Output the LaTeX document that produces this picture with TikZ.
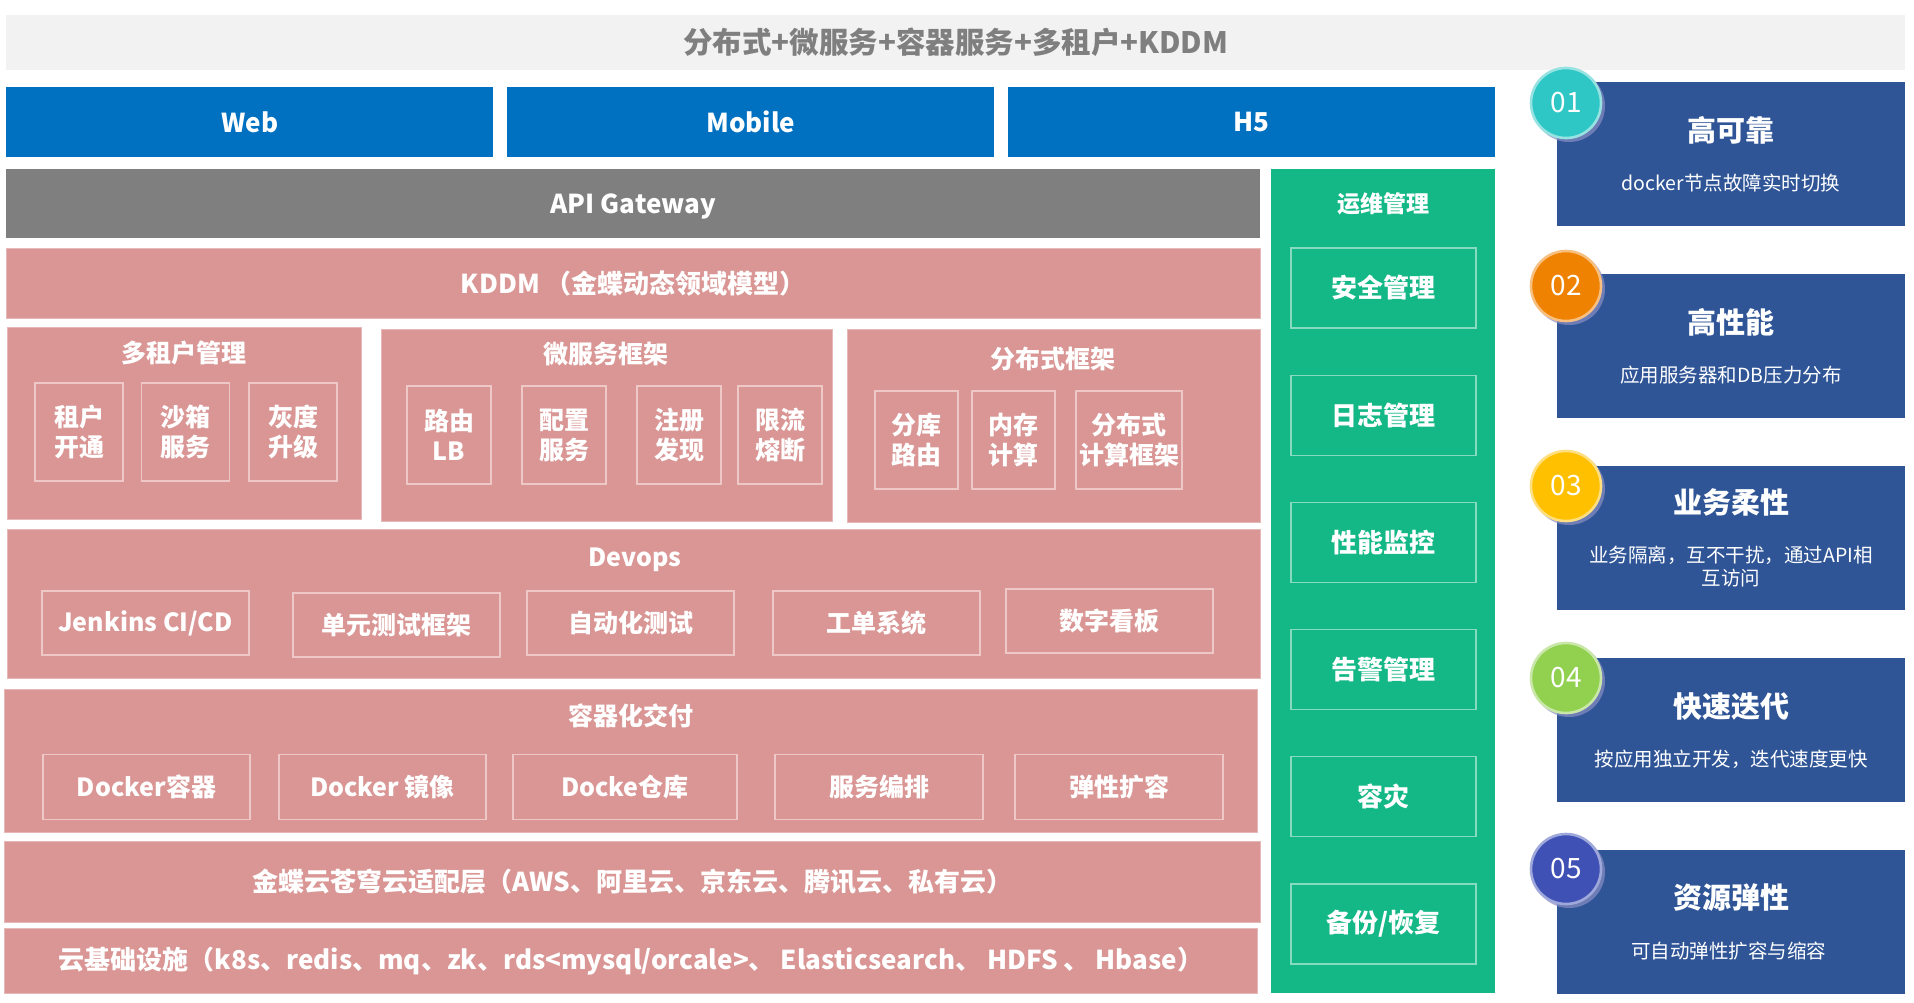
\documentclass[tikz,border=0pt]{standalone}
\usepackage{fontspec}
\setmainfont{Noto Sans CJK SC}
\usepackage{xcolor}
\usepackage{tikz}

\tikzset{
	bar/.style={fill=#1,draw=none,text=white,inner sep=0pt,anchor=north west,
		font=\bfseries\fontsize{26}{30}\selectfont},
	panel/.style={fill=kdPink,draw=kdPinkEdge,line width=0.8pt,text=white,inner sep=0pt,
		anchor=north west,font=\bfseries\fontsize{26}{30}\selectfont},
	paneltitle/.style={text=white,inner sep=0pt,font=\bfseries\fontsize{25}{30}\selectfont},
	cell/.style={draw=kdCellEdge,line width=1.3pt,text=white,inner sep=0pt,align=center,
		font=\bfseries\fontsize{25}{30}\selectfont},
	opsbox/.style={draw=kdOpsEdge,line width=1.3pt,text=white,inner sep=0pt,
		minimum width=185pt,minimum height=80pt,font=\bfseries\fontsize{26}{30}\selectfont},
	card/.style={fill=kdCard,draw=none,anchor=north west,minimum width=348pt,minimum height=144pt},
	cardtitle/.style={text=white,inner sep=0pt,font=\bfseries\fontsize{29}{34}\selectfont},
	cardnote/.style={text=white,inner sep=0pt,align=center,font=\fontsize{19.5}{23}\selectfont},
	numdot/.style={circle,inner sep=0pt,minimum size=70pt,line width=2.6pt,text=white,
		font=\fontsize{28}{30}\selectfont},
	numshade/.style={circle,inner sep=0pt,minimum size=72pt,fill=kdShade,draw=none},
	boxsize/.style 2 args={minimum width=#1pt,minimum height=#2pt},
}

\begin{document}
\begin{tikzpicture}[x=1pt,y=-1pt]
\definecolor{kdTitleBg}{HTML}{F2F2F2}
\definecolor{kdTitleText}{HTML}{7F7F7F}
\definecolor{kdBlue}{HTML}{0070C0}
\definecolor{kdGray}{HTML}{7F7F7F}
\definecolor{kdPink}{HTML}{D99694}
\definecolor{kdPinkEdge}{HTML}{E6B8B7}
\definecolor{kdCellEdge}{HTML}{EDC8C7}
\definecolor{kdGreen}{HTML}{14B886}
\definecolor{kdOpsEdge}{HTML}{86DABD}
\definecolor{kdCard}{HTML}{2F5597}
\definecolor{kdShade}{HTML}{8A8FC4}
\definecolor{kdNumA}{HTML}{2EC7C6}
\definecolor{kdNumB}{HTML}{EF8200}
\definecolor{kdNumC}{HTML}{FFC000}
\definecolor{kdNumD}{HTML}{92D050}
\definecolor{kdNumE}{HTML}{4051B5}

\useasboundingbox[fill=white] (0,0) rectangle (1914,1002);

% headline
\node[bar=kdTitleBg,boxsize={1899}{55},text=kdTitleText,font=\bfseries\fontsize{29.5}{32}\selectfont]
	(head) at (6,15) {分布式+微服务+容器服务+多租户+KDDM};

% clients
\foreach \nm/\lx/\lab in {web/6/Web,mobile/507/Mobile,hfive/1008/H5}
	\node[bar=kdBlue,boxsize={487}{70}] (\nm) at (\lx,87) {\lab};

\node[bar=kdGray,boxsize={1254}{69},text depth=0pt] (api) at (6,169) {API Gateway};
\node[panel,boxsize={1254}{70}] (kddm) at (6,248) {KDDM （金蝶动态领域模型）};

% three frameworks
\node[panel,boxsize={354}{192}] (tenant) at (7,327) {};
\node[paneltitle] (tenantT) at (184,353) {多租户管理};
\foreach \cx/\lab [count=\i] in {79/租户\\开通,185.5/沙箱\\服务,293/灰度\\升级}
	\node[cell,boxsize={88}{98}] (tenant\i) at (\cx,432) {\lab};

\node[panel,boxsize={451}{192}] (micro) at (381,329) {};
\node[paneltitle] (microT) at (606,354) {微服务框架};
\foreach \cx/\lab [count=\i] in {449/路由\\LB,564/配置\\服务,679/注册\\发现,780/限流\\熔断}
	\node[cell,boxsize={84}{98}] (micro\i) at (\cx,435) {\lab};

\node[panel,boxsize={413}{193}] (dist) at (847,329) {};
\node[paneltitle] (distT) at (1053,359) {分布式框架};
\foreach \cx/\w/\lab [count=\i] in {916.5/83/分库\\路由,1013.5/83/内存\\计算,1129/106/分布式\\计算框架}
	\node[cell,boxsize={\w}{98}] (dist\i) at (\cx,440) {\lab};

% devops
\node[panel,boxsize={1253}{149}] (devops) at (7,529) {};
\node[paneltitle] (devopsT) at (635,560) {Devops};
\foreach \cx/\cy/\lab [count=\i] in {145.5/623/{Jenkins CI/CD},396.5/625/单元测试框架,
	630.5/623/自动化测试,876.5/623/工单系统,1109.5/621/数字看板}
	\node[cell,boxsize={207}{64}] (devops\i) at (\cx,\cy) {\lab};

% containers
\node[panel,boxsize={1253}{143}] (deliver) at (4,689) {};
\node[paneltitle] (deliverT) at (631,716) {容器化交付};
\foreach \cx/\w/\lab [count=\i] in {146.5/207/Docker容器,382.5/207/Docker 镜像,
	625/224/Docke仓库,879/208/服务编排,1119/208/弹性扩容}
	\node[cell,boxsize={\w}{65}] (deliver\i) at (\cx,787) {\lab};

\node[panel,boxsize={1256}{81}] (adapt) at (4,841)
	{金蝶云苍穹云适配层（AWS、阿里云、京东云、腾讯云、私有云）};
\node[panel,boxsize={1253}{65}] (infra) at (4,928)
	{云基础设施（k8s、redis、mq、zk、rds<mysql/orcale>、 Elasticsearch、 HDFS 、 Hbase）};

% operations column
\node[bar=kdGreen,boxsize={224}{824}] (ops) at (1271,169) {};
\node[paneltitle,font=\bfseries\fontsize{23}{28}\selectfont] (opsT) at (1383,204) {运维管理};
\foreach \lab [count=\i] in {安全管理,日志管理,性能监控,告警管理,容灾,{备份/恢复}}
	\node[opsbox] (ops\i) at (1383.5,288+127.2*\i-127.2) {\lab};

% feature cards
\foreach \idx/\col/\t/\cy/\dy/\ttl/\note in {
	01/kdNumA/82/21/48/高可靠/docker节点故障实时切换,
	02/kdNumB/274/12/48/高性能/应用服务器和DB压力分布,
	03/kdNumC/466/20/36/业务柔性/{业务隔离，互不干扰，通过API相\\互访问},
	04/kdNumD/658/20/49/快速迭代/按应用独立开发，迭代速度更快,
	05/kdNumE/850/19/47/资源弹性/可自动弹性扩容与缩容
} {
	\node[card] (card\idx) at (1557,\t) {};
	\node[cardtitle] (title\idx) at (1731,\t+\dy) {\ttl};
	\node[cardnote] (note\idx) at (1731,\t+101) {\note};
	\node[numshade,fill opacity=0.7] (shade\idx) at (1569,\t+\cy+3) {};
	\node[numdot,fill=\col,draw=\col!50!white] (num\idx) at (1566,\t+\cy) {\idx};
}
\end{tikzpicture}
\end{document}
